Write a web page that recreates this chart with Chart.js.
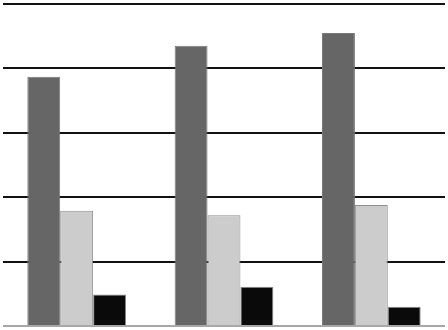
<!DOCTYPE html>
<html>
<head>
<meta charset="utf-8">
<script src="https://cdn.jsdelivr.net/npm/chart.js@4"></script>
<style>
  html, body { margin: 0; padding: 0; background: #fff; }
  #wrap { width: 448px; height: 330px; }
</style>
</head>
<body>
<div id="wrap"><canvas id="barChart"></canvas></div>
<script>
const categories = ['Group 1', 'Group 2', 'Group 3'];
const seriesA = [3.87, 4.35, 4.55];
const seriesB = [1.79, 1.72, 1.88];
const seriesC = [0.49, 0.61, 0.30];
const yTicks = [0, 1, 2, 3, 4, 5];

const ctx = document.getElementById('barChart');
new Chart(ctx.getContext('2d'), {
    type: 'bar',
    data: {
        labels: categories,
        datasets: [
            { label: 'Series A', data: seriesA, backgroundColor: '#666666', borderColor: '#7a7a7a', borderWidth: 1 },
            { label: 'Series B', data: seriesB, backgroundColor: '#cccccc', borderColor: '#8f8f8f', borderWidth: 1 },
            { label: 'Series C', data: seriesC, backgroundColor: '#0a0a0a', borderColor: '#8a8a8a', borderWidth: 1 }
        ]
    },
    options: {
        responsive: true,
        maintainAspectRatio: false,
        animation: false,
        layout: { padding: { left: 3, right: 3, top: 4, bottom: 4 } },
        plugins: {
            legend: { display: false },
            tooltip: { enabled: false }
        },
        datasets: {
            bar: { categoryPercentage: 0.67, barPercentage: 1.0 }
        },
        scales: {
            x: {
                grid: { display: false, drawTicks: false },
                border: { display: false },
                ticks: { display: false }
            },
            y: {
                min: yTicks[0],
                max: yTicks[yTicks.length - 1],
                afterBuildTicks: axis => { axis.ticks = yTicks.map(v => ({ value: v })); },
                ticks: { display: false },
                border: { display: false },
                grid: {
                    drawTicks: false,
                    color: c => c.tick && c.tick.value === 0 ? '#a8a8a8' : '#111111',
                    lineWidth: c => c.tick && c.tick.value === 0 ? 2 : 2
                }
            }
        }
    }
});
</script>
</body>
</html>
